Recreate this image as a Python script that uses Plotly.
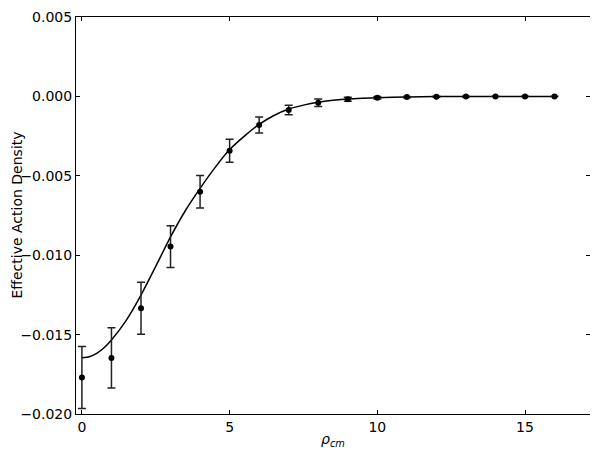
import plotly.graph_objects as go

# Data points (rho_cm, effective action density, error)
rho = [0, 1, 2, 3, 4, 5, 6, 7, 8, 9, 10, 11, 12, 13, 14, 15, 16]
density = [-0.0177, -0.01647, -0.01334, -0.00946, -0.0060, -0.00342, -0.0018, -0.00086,
           -0.0004, -0.00018, -0.00008, -0.00004, -0.00002, -0.00001, 0.0, 0.0, 0.0]
errors = [0.00195, 0.0019, 0.00164, 0.00132, 0.00102, 0.00072, 0.0005, 0.0003,
          0.00023, 0.00012, 0.00008, 0.00004, 0.00003, 0.00002, 0.00001, 0.00001, 0.00001]

# Fitted curve
fit_x = [0, 0.25, 0.5, 0.75, 1, 1.5, 2, 2.5, 3, 3.5, 4, 4.5, 5, 5.5, 6, 6.5, 7, 7.5, 8, 8.5, 9, 9.5,
         10, 11, 12, 13, 14, 15, 16]
fit_y = [-0.01646, -0.01639, -0.01618, -0.01583, -0.01534, -0.0141, -0.01251, -0.0107, -0.00885,
         -0.0072, -0.00579, -0.0045, -0.00335, -0.0025, -0.00176, -0.0012, -0.00079, -0.00055,
         -0.00037, -0.00025, -0.00016, -0.00011, -0.00008, -0.00003, -0.00001, 0.0, 0.0, 0.0, 0.0]

x_ticks = [0, 5, 10, 15]
y_ticks = [-0.020, -0.015, -0.010, -0.005, 0.000, 0.005]
y_ticktext = ["\u22120.020", "\u22120.015", "\u22120.010", "\u22120.005", "0.000", "0.005"]

fig = go.Figure()
fig.add_trace(go.Scatter(
    x=fit_x, y=fit_y, mode="lines", line=dict(color="black", width=1.5, shape="spline", smoothing=0.6),
    hoverinfo="skip", showlegend=False))
fig.add_trace(go.Scatter(
    x=rho, y=density, mode="markers",
    marker=dict(color="black", size=6),
    error_y=dict(type="data", array=errors, visible=True, color="#222222", thickness=1.5, width=4),
    showlegend=False))

font = "DejaVu Sans, Liberation Sans, sans-serif"
fig.update_layout(
    width=590, height=447,
    margin=dict(l=68, r=8, t=9, b=41),
    paper_bgcolor="white", plot_bgcolor="white",
    font=dict(family=font, size=14, color="black"),
    xaxis=dict(range=[-0.2, 17.2], tickvals=x_ticks, ticktext=[str(v) for v in x_ticks],
               ticks="inside", ticklen=4, tickcolor="black", tickwidth=1,
               showline=True, linecolor="black", linewidth=1, mirror="ticks",
               showgrid=False, zeroline=False, automargin=False,
               tickfont=dict(size=14)),
    yaxis=dict(range=[-0.020, 0.005], tickvals=y_ticks, ticktext=y_ticktext,
               ticks="inside", ticklen=4, tickcolor="black", tickwidth=1,
               showline=True, linecolor="black", linewidth=1, mirror="ticks",
               showgrid=False, zeroline=False, automargin=False,
               tickfont=dict(size=14)),
    annotations=[
        dict(text="Effective Action Density", xref="paper", yref="paper",
             x=-60 / 514, y=0.5, xanchor="center", yanchor="middle", textangle=-90,
             showarrow=False, font=dict(size=14)),
        dict(text="<i>ρ</i><sub><i>cm</i></sub>", xref="paper", yref="paper",
             x=0.5, y=-26 / 397, xanchor="center", yanchor="middle",
             showarrow=False, font=dict(size=14)),
    ],
)
fig.write_html("out.html")
